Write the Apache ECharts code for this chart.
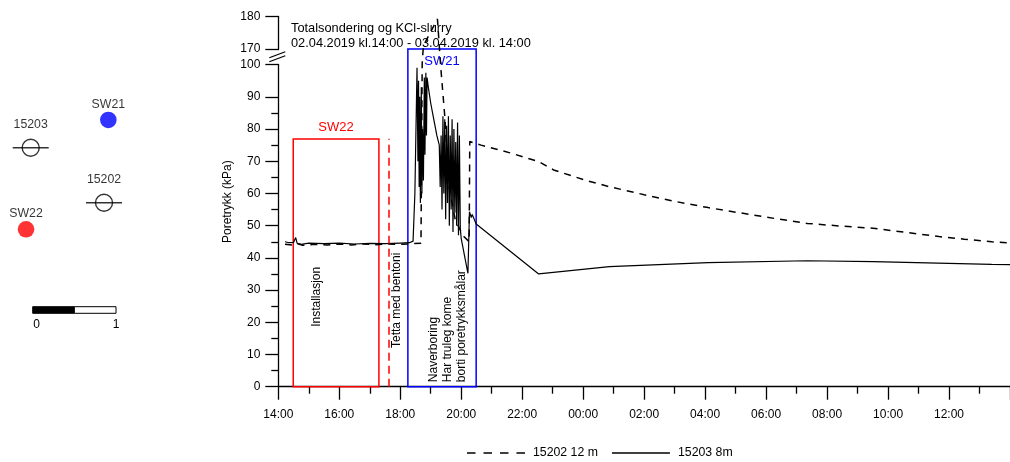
<!DOCTYPE html>
<html><head><meta charset="utf-8">
<script src="https://cdn.jsdelivr.net/npm/echarts@6/dist/echarts.min.js"></script>
<style>html,body{margin:0;padding:0;background:#fff}#c{width:1010px;height:462px}</style>
</head><body><div id="c"></div>
<script>
// ---------- data ----------
// hours after 02.04.2019 14:00
const xTickLabels = ['14:00','16:00','18:00','20:00','22:00','00:00','02:00','04:00','06:00','08:00','10:00','12:00','14:00'];
const seriesNames = ['15202 12 m', '15203 8m'];
const yAxisTitle = 'Poretrykk (kPa)';
// [hours, kPa]
const kpa15202 = [
  [0.22,44.2],[0.45,44.0],[0.6,44.5],[0.8,43.9],[1.2,44.2],[1.6,44.0],[2.0,44.3],[2.4,44.0],[2.8,44.3],[3.2,44.1],
  [3.6,44.3],[4.0,44.2],[4.4,44.4],[4.68,44.5],[4.72,108],[4.76,171],[5.22,179.3],[5.33,99],[5.46,84],
  [5.6,62],[5.8,52],[6.05,47],[6.26,45],[6.28,76.1],[6.65,75.0],[7.6,72.6],[8.54,69.9],[9.03,67.3],[10.0,64.3],
  [10.85,62.1],[12.0,59.6],[13.03,57.5],[14.1,55.6],[15.19,53.9],[16.3,52.2],[17.35,50.7],[18.4,49.9],[19.51,49.2],
  [20.6,47.9],[21.67,46.6],[22.5,45.8],[23.4,45.0],[24,44.6]
];
const kpa15203 = [
  [0.22,45.0],[0.35,44.7],[0.5,44.8],[0.57,46.3],[0.62,44.5],[0.75,44.2],[1.0,44.6],[1.5,44.4],[2.0,44.6],[2.5,44.3],
  [3.0,44.5],[3.5,44.4],[4.0,44.6],[4.3,44.7],[4.42,45.2],[4.48,60],[4.55,99],[4.58,70],[4.60,95],[4.62,62],
  [4.64,90],[4.66,57],[4.69,93],[4.71,60],[4.73,80],[4.76,64],[4.79,96],[4.81,72],[4.84,97.5],[4.86,78],
  [4.88,96],[4.92,93],[5.0,88],[5.1,83],[5.2,78],[5.28,75],[5.31,62],[5.34,78],[5.37,55],[5.40,84],
  [5.43,60],[5.46,83],[5.49,52],[5.52,81],[5.55,57],[5.58,84],[5.61,50],[5.64,78],[5.67,55],[5.70,83],
  [5.73,48],[5.76,80],[5.79,54],[5.82,76],[5.85,50],[5.88,82],[5.91,47],[5.94,78],[5.97,49],[6.0,46],
  [6.22,35.2],[6.27,54.3],[6.33,52.5],[6.36,53.5],[6.49,50.5],[8.54,35.0],[10.86,37.3],[14.1,38.5],[17.35,39.1],
  [19.51,38.8],[23.4,38.0],[24,37.9]
];
// annotation periods [startHour, endHour, topKpa]
const sw22Period = [0.49, 3.30, 76.9];
const sw21Period = [4.25, 6.49, 170];
const sealLine = [3.62, 0, 77];
// map (metres)
const wellNames = ['SW21', '15203', '15202', 'SW22'];
const wellX = [0.908, -0.024, 0.856, -0.080];
const wellY = [2.281, 1.948, 1.288, 0.969];
const scaleBarStops = [0, 0.5, 1];
const scaleLabels = ['0', '1'];

// ---------- chart ----------
const FONT = '"Liberation Sans", Arial, sans-serif';
const chart = echarts.init(document.getElementById('c'), null, {renderer: 'canvas'});
const axisCol = '#000';

const piezoData = [], swData = [];
wellNames.forEach((n, i) => {
  const item = {name: n, value: [wellX[i], wellY[i]]};
  if (n.startsWith('SW')) {
    item.itemStyle = {color: n === 'SW21' ? '#0000ff' : '#ff0000'};
    swData.push(item);
  } else piezoData.push(item);
});

const dashIcon = 'path://M0,0h7.5v1.5h-7.5z M14.5,0h7.5v1.5h-7.5z M29,0h7.5v1.5h-7.5z M43.5,0h7.5v1.5h-7.5z';
const solidIcon = 'path://M0,0h58v1.3h-58z';

const option = {
  animation: false,
  textStyle: {fontFamily: FONT},
  title: {
    text: 'Totalsondering og KCl-slurry\n02.04.2019 kl.14:00 - 03.04.2019 kl. 14:00',
    left: 291, top: 20.5, padding: 0,
    textStyle: {fontSize: 12.8, fontWeight: 'normal', color: '#000', lineHeight: 15, fontFamily: FONT}
  },
  legend: {
    data: [{name: seriesNames[0], icon: dashIcon}, {name: seriesNames[1], icon: solidIcon}],
    left: 467, top: 447, padding: 0, itemWidth: 58, itemHeight: 10, itemGap: 14,
    textStyle: {fontSize: 12.3, color: '#000', fontFamily: FONT, padding: [0, 0, 0, 3]}
  },
  grid: [
    {left: 278.3, top: 16.7, right: -8.5, bottom: 75.3},
    {left: 16.04, top: 101.75, width: 166.6, height: 249.9}
  ],
  xAxis: [{
    gridIndex: 0, type: 'value', min: 0, max: 24, interval: 2,
    axisLine: {show: true, onZero: false, lineStyle: {color: axisCol, width: 1.3}},
    axisTick: {show: true, length: 13, lineStyle: {color: axisCol, width: 1.3}},
    minorTick: {show: true, splitNumber: 2, length: 7, lineStyle: {color: axisCol, width: 1.3}},
    axisLabel: {margin: 21.5, fontSize: 12, color: '#000', fontFamily: FONT, showMaxLabel: false,
      formatter: v => xTickLabels[Math.round(v / 2)]},
    splitLine: {show: false}
  }, {
    gridIndex: 1, type: 'value', min: -0.2, max: 1.8, show: false
  }],
  yAxis: [{
    gridIndex: 0, type: 'value', min: 0, max: 180, interval: 10,
    breaks: [{start: 100, end: 170, gap: 4.87}],
    breakArea: {show: false, itemStyle: {color: 'rgba(0,0,0,0)', borderColor: 'rgba(0,0,0,0)', opacity: 0}},
    axisLine: {show: true, lineStyle: {color: axisCol, width: 1.3}},
    axisTick: {show: true, length: 13, lineStyle: {color: axisCol, width: 1.3}},
    minorTick: {show: true, splitNumber: 2, length: 7, lineStyle: {color: axisCol, width: 1.3}},
    axisLabel: {margin: 18, fontSize: 12, color: '#000', fontFamily: FONT},
    splitLine: {show: false}
  }, {
    gridIndex: 1, type: 'value', min: -0.5, max: 2.5, show: false
  }],
  series: [{
    name: seriesNames[0], type: 'line', xAxisIndex: 0, yAxisIndex: 0, data: kpa15202,
    symbol: 'none', color: '#000', z: 3,
    lineStyle: {color: '#000', width: 1.5, type: [7, 6]},
    markArea: {
      silent: true,
      itemStyle: {color: 'rgba(0,0,0,0)', borderWidth: 1.5},
      data: [
        [{name: 'SW22', xAxis: sw22Period[0], yAxis: 0, itemStyle: {borderColor: '#ff0000', color: 'rgba(0,0,0,0)', borderWidth: 1.5},
          label: {show: true, position: 'top', distance: 4, color: '#ff0000', fontSize: 13, fontFamily: FONT}},
         {xAxis: sw22Period[1], yAxis: sw22Period[2]}],
        [{name: 'SW21', xAxis: sw21Period[0], yAxis: 0, itemStyle: {borderColor: '#0000ff', color: 'rgba(0,0,0,0)', borderWidth: 1.5},
          label: {show: true, position: 'insideTop', distance: 7, color: '#0000ff', fontSize: 13, fontFamily: FONT}},
         {xAxis: sw21Period[1], yAxis: sw21Period[2]}]
      ]
    },
    markLine: {
      silent: true, symbol: ['none', 'none'], label: {show: false},
      lineStyle: {color: '#ff0000', width: 1.5, type: [8, 5]},
      data: [[{coord: [sealLine[0], sealLine[1]]}, {coord: [sealLine[0], sealLine[2]]}]]
    }
  }, {
    name: seriesNames[1], type: 'line', xAxisIndex: 0, yAxisIndex: 0, data: kpa15203,
    symbol: 'none', color: '#000', z: 4,
    lineStyle: {color: '#000', width: 1.2, type: 'solid'}
  }, {
    name: 'mapLine', type: 'scatter', xAxisIndex: 1, yAxisIndex: 1, silent: true,
    data: piezoData.map(d => ({value: d.value})),
    symbol: 'rect', symbolSize: [36, 1.5], itemStyle: {color: '#000'}, z: 2
  }, {
    name: 'mapPiezo', type: 'scatter', xAxisIndex: 1, yAxisIndex: 1, silent: true,
    data: piezoData, symbol: 'circle', symbolSize: 17,
    itemStyle: {color: 'rgba(0,0,0,0)', borderColor: '#000', borderWidth: 1.4},
    label: {show: true, position: 'top', distance: 8, formatter: '{b}', color: '#000', fontSize: 12.3, fontFamily: FONT}, z: 3
  }, {
    name: 'mapSW', type: 'scatter', xAxisIndex: 1, yAxisIndex: 1, silent: true,
    data: swData, symbol: 'circle', symbolSize: 16.6,
    label: {show: true, position: 'top', distance: 1, formatter: '{b}', color: '#000', fontSize: 12.3, fontFamily: FONT}, z: 3
  }, {
    name: 'scaleBar', type: 'custom', xAxisIndex: 1, yAxisIndex: 1, silent: true,
    data: [[scaleBarStops[0], scaleBarStops[1]], [scaleBarStops[1], scaleBarStops[2]]],
    renderItem: (params, api) => {
      const s = api.coord([api.value(0), 0]);
      const e = api.coord([api.value(1), 0]);
      const h = 6.6;
      const children = [{
        type: 'rect', shape: {x: s[0], y: s[1] - h / 2, width: e[0] - s[0], height: h},
        style: {fill: params.dataIndex === 0 ? '#000' : '#fff', stroke: '#000', lineWidth: 1}
      }];
      const lx = params.dataIndex === 0 ? s[0] + 4 : e[0];
      children.push({
        type: 'text', x: lx, y: s[1] + 9,
        style: {text: scaleLabels[params.dataIndex], fill: '#000', font: '12px ' + FONT, align: 'center', verticalAlign: 'top'}
      });
      return {type: 'group', children};
    }
  }]
};
chart.setOption(option);

// annotations positioned through the main axes
const p = (h, v) => chart.convertToPixel({xAxisIndex: 0, yAxisIndex: 0}, [h, v]);
const rotTextPx = (txt, x, y, align) => ({type: 'text', x: x, y: y, rotation: Math.PI / 2, silent: true, z: 10,
    style: {text: txt, fill: '#000', font: '12px ' + FONT, align: align, verticalAlign: 'middle',
      textAlign: align, textVerticalAlign: 'middle'}});
const rotText = (txt, h, v, align) => { const q = p(h, v); return rotTextPx(txt, q[0], q[1], align); };
const y100 = p(0, 100)[1], y170 = p(0, 170)[1];
const yBottom = p(0, 0)[1], yTop = p(0, 180)[1];
const ax0 = p(0, 0)[0];
const mid = (y100 + y170) / 2;
chart.setOption({
  graphic: [
    rotTextPx(yAxisTitle, ax0 - 50.5, (yBottom + yTop) / 2, 'center'),
    rotText('Installasjon', 1.245, 27.9, 'center'),
    rotText('Tetta med bentoni', 3.89, 12, 'left'),
    rotText('Naverboring', 5.1, 1.4, 'left'),
    rotText('Har truleg kome', 5.54, 1.4, 'left'),
    rotText('borti poretrykksmålar', 6.02, 1.4, 'left'),
    {type: 'line', silent: true, z: 10, shape: {x1: ax0 - 9, y1: mid + 5, x2: ax0 + 7, y2: mid - 1},
      style: {stroke: '#000', lineWidth: 1.3}},
    {type: 'line', silent: true, z: 10, shape: {x1: ax0 - 9, y1: mid + 1, x2: ax0 + 7, y2: mid - 5},
      style: {stroke: '#000', lineWidth: 1.3}}
  ]
});
</script></body></html>
